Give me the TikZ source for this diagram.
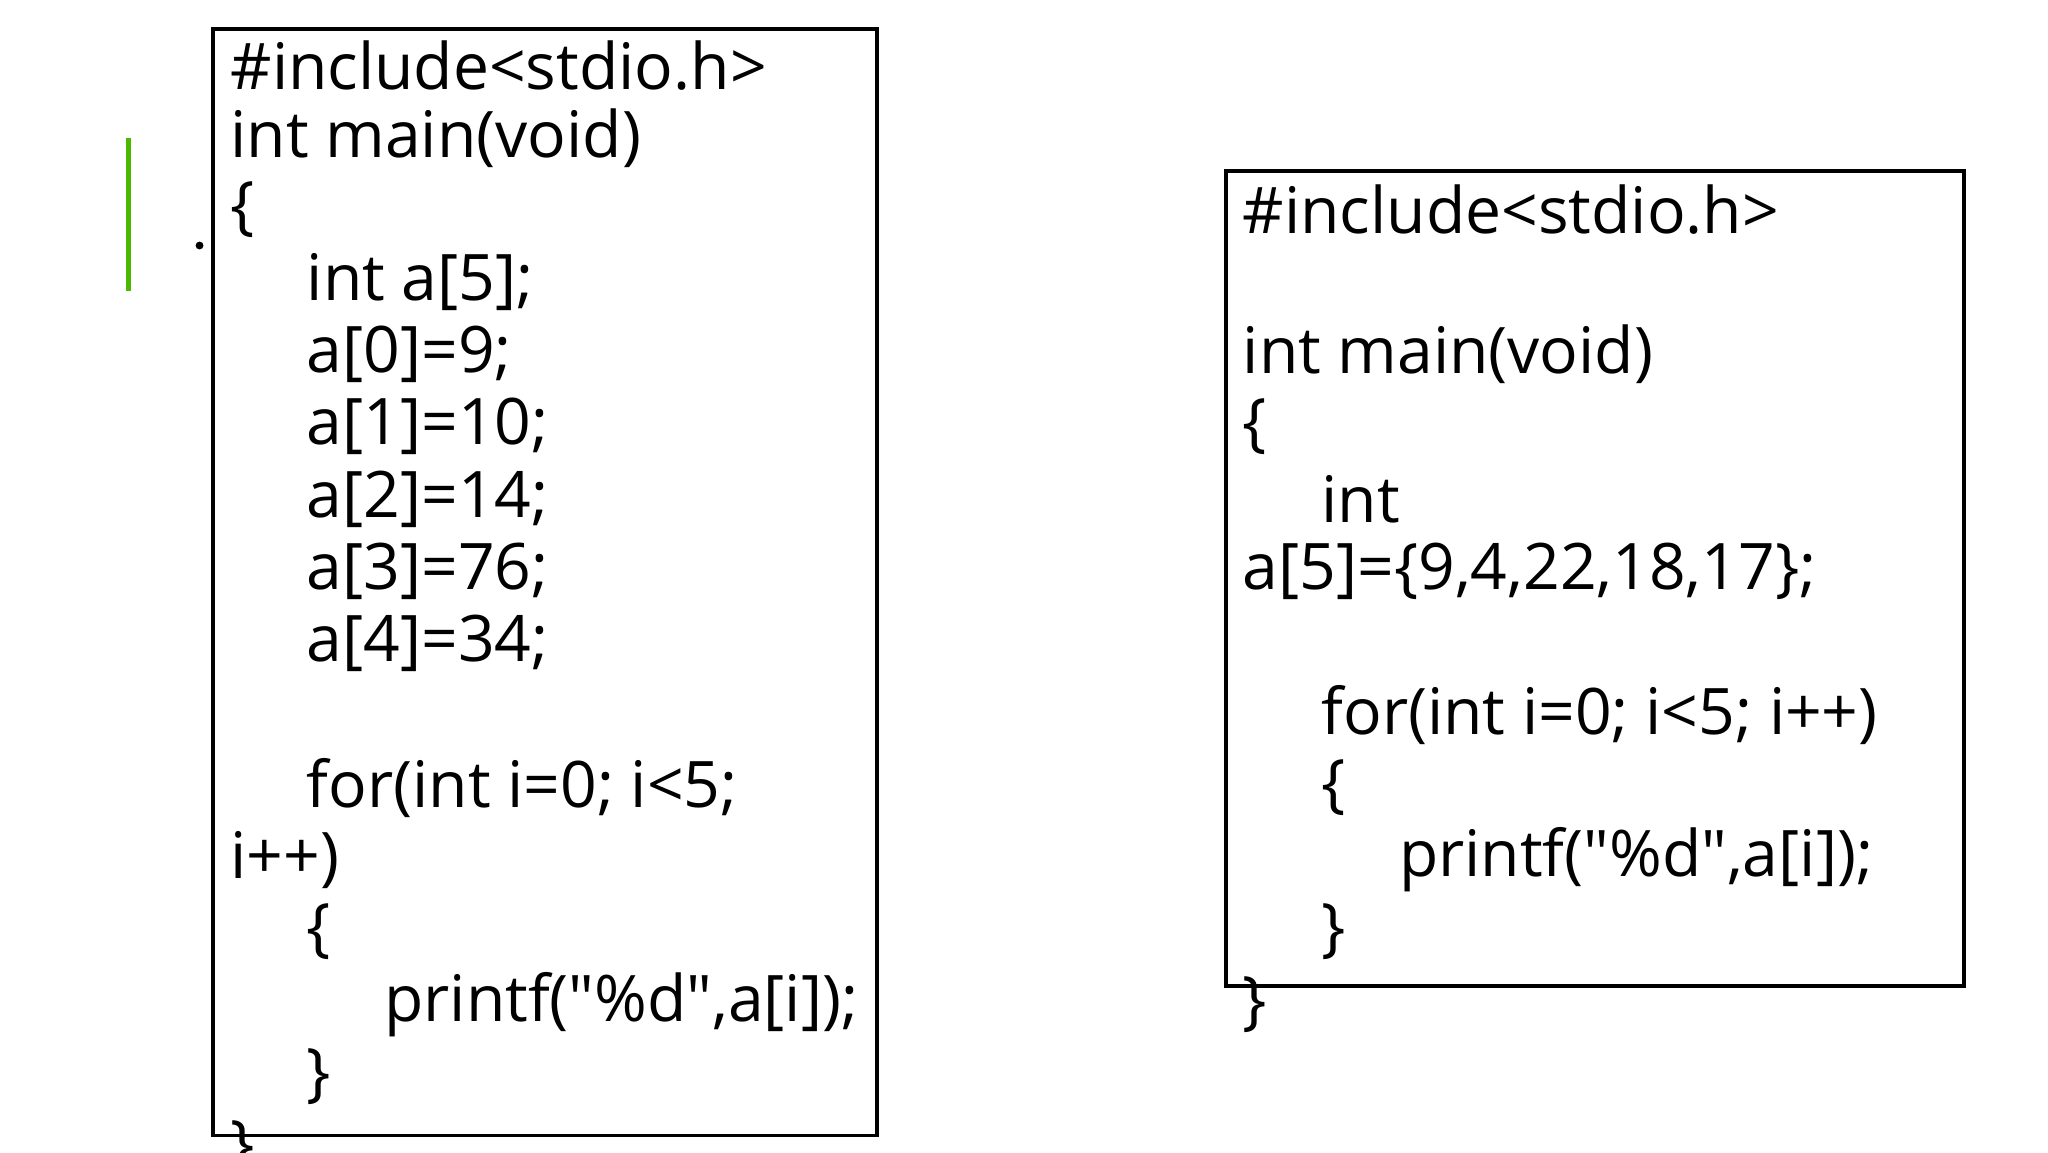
\documentclass[tikz,border=0pt]{standalone}
\usepackage{fontspec}
\setmainfont[Ligatures=NoCommon]{Open Sans}
\usetikzlibrary{positioning}
\newcommand{\qq}{{\fontspec{Open Sans}\char"22}}
\tikzset{codeline/.style={anchor=west, inner sep=0pt, font=\fontsize{13.9}{16}\selectfont},
  codebox/.style={draw, line width=0.8pt}}
\begin{document}
\begin{tikzpicture}[x=0.01cm, y=-0.01cm]
    \useasboundingbox (0,0) rectangle (1560,878);
    \clip (0,0) rectangle (1560,878);
    % side mark
    \draw[green!60!black!70!yellow, line width=1.2pt] (98,105) -- (98,222);
    \fill (152,187) circle (3);

    % left listing
    \draw[codebox] (162,22) rectangle (668,865);
    \foreach \y/\x/\t in {50/175/{\#include<stdio.h>}, 105/175/{int main(void)}, 160/175/\{,
        215/233/{int a[5];}, 270/233/{a[0]=9;}, 325/233/{a[1]=10;}, 380/233/{a[2]=14;},
        435/233/{a[3]=76;}, 490/233/{a[4]=34;}, 600/233/{for(int i=0; i<5;}, 655/175/{i++)},
        710/233/\{, 765/292/{printf(\qq\%d\qq,a[i]);}, 820/233/\}, 875/175/\}}
      \node[codeline] at (\x,\y) {\t};

    % right listing
    \draw[codebox] (934,130) rectangle (1496,751);
    \foreach \y/\x/\t in {160/946/{\#include<stdio.h>}, 270/946/{int main(void)}, 325/946/\{,
        380/1006/int, 435/946/{a[5]=\{9,4,22,18,17\};}, 545/1006/{for(int i=0; i<5; i++)},
        600/1006/\{, 655/1065/{printf(\qq\%d\qq,a[i]);}, 710/1006/\}, 765/946/\}}
      \node[codeline] at (\x,\y) {\t};
\end{tikzpicture}
\end{document}
